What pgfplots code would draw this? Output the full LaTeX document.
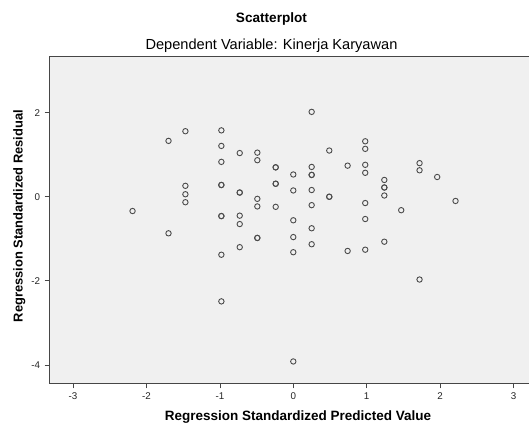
\documentclass[border=0pt]{standalone}
\usepackage{fontspec}
\setmainfont{Liberation Sans}
\usepackage{pgfplots}
\pgfplotsset{compat=1.18}
\definecolor{plotbg}{RGB}{240,240,240}
\definecolor{framec}{RGB}{70,70,70}
\definecolor{ringc}{RGB}{75,75,75}

% residuals against predicted values (standardized)
\pgfplotstableread{
x y
-2.19 -0.34
-1.70 1.33
-1.70 -0.87
-1.47 1.56
-1.47 0.26
-1.47 0.06
-1.47 -0.13
-0.98 1.58
-0.98 1.21
-0.98 0.83
-0.98 0.28
-0.98 0.28
-0.98 -0.46
-0.98 -0.46
-0.98 -1.38
-0.98 -2.49
-0.73 1.04
-0.73 0.10
-0.73 0.10
-0.73 -0.45
-0.73 -0.65
-0.73 -1.20
-0.49 1.05
-0.49 0.87
-0.49 -0.05
-0.49 -0.23
-0.49 -0.98
-0.49 -0.98
-0.24 0.70
-0.24 0.70
-0.24 0.31
-0.24 0.31
-0.24 -0.24
0 0.53
0 0.15
0 -0.56
0 -0.96
0 -1.32
0 -3.92
0.25 2.02
0.25 0.71
0.25 0.52
0.25 0.52
0.25 0.16
0.25 -0.20
0.25 -0.75
0.25 -1.13
0.49 1.10
0.49 0.00
0.49 0.00
0.74 0.74
0.74 -1.29
0.98 1.32
0.98 1.14
0.98 0.76
0.98 0.57
0.98 -0.15
0.98 -0.53
0.98 -1.26
1.24 0.40
1.24 0.22
1.24 0.22
1.24 0.03
1.24 -1.07
1.47 -0.32
1.72 0.80
1.72 0.63
1.72 -1.97
1.96 0.47
2.21 -0.10
}\residuals

\begin{document}
\begin{tikzpicture}[x=1pt,y=1pt]
\fill[white] (-49.6,-39.7) rectangle ++(529,423);
\begin{axis}[
  at={(0,0)}, anchor=south west,
  scale only axis, width=487.4pt, height=327.3pt,
  xmin=-3.32, xmax=3.32, ymin=-4.44, ymax=3.35,
  axis background/.style={fill=plotbg},
  axis line style={framec, line width=0.8pt},
  tick align=outside, tick pos=left,
  major tick length=5pt,
  every tick/.style={framec, line width=0.6pt},
  xtick={-3,-2,-1,0,1,2,3}, xticklabels={-3,-2,-1,0,1,2,3},
  ytick={-4,-2,0,2}, yticklabels={-4,-2,0,2},
  ticklabel style={font=\fontsize{9.8}{11}\selectfont, text=black!85},
  xticklabel style={yshift=-1pt},
  yticklabel style={xshift=-1pt},
  clip=false,
]
\addplot[only marks, mark=o, mark size=2.7pt,
  mark options={draw=ringc, line width=0.9pt}] table[x=x, y=y] {\residuals};
\end{axis}
\node[font=\fontsize{13.6}{16}\selectfont\bfseries, anchor=base] at (221.9,360.4) {Scatterplot};
\node[font=\fontsize{14.6}{17}\selectfont, anchor=base] at (221.9,334.0) {Dependent Variable: Kinerja Karyawan};
\node[font=\fontsize{13.5}{16}\selectfont\bfseries, anchor=base] at (248.4,-36.7) {Regression Standardized Predicted Value};
\node[font=\fontsize{12.9}{15}\selectfont\bfseries, rotate=90, anchor=base] at (-26.9,167.3) {Regression Standardized Residual};
\pgfresetboundingbox
\path (-49.6,-39.7) rectangle ++(529,423);
\end{tikzpicture}
\end{document}
